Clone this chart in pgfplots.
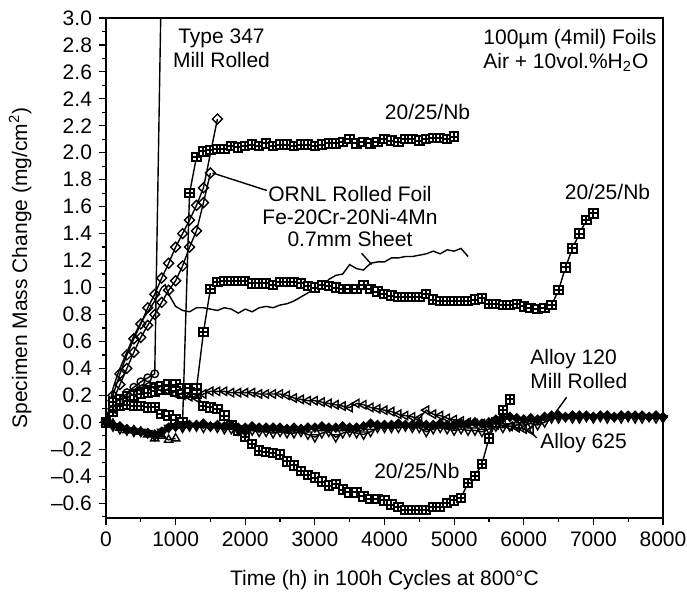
\documentclass[border=0pt]{standalone}
\usepackage{fontspec}
\setmainfont{Liberation Sans}
\usepackage{pgfplots}
\pgfplotsset{compat=1.18}

% square with a cross inside, as in the original marks
\pgfdeclareplotmark{gridsq}{%
  \pgfpathrectangle{\pgfpoint{-\pgfplotmarksize}{-\pgfplotmarksize}}{\pgfpoint{2\pgfplotmarksize}{2\pgfplotmarksize}}%
  \pgfusepathqfillstroke
  \pgfpathmoveto{\pgfpoint{-\pgfplotmarksize}{0pt}}%
  \pgfpathlineto{\pgfpoint{\pgfplotmarksize}{0pt}}%
  \pgfpathmoveto{\pgfpoint{0pt}{-\pgfplotmarksize}}%
  \pgfpathlineto{\pgfpoint{0pt}{\pgfplotmarksize}}%
  \pgfusepathqstroke}

\newcommand{\lbl}{\fontsize{10.5}{12}\selectfont}

\begin{document}
\begin{tikzpicture}
\useasboundingbox (-53pt,-37pt) rectangle (290.5pt,259pt);
\begin{axis}[
  at={(0,0)}, anchor=south west,
  scale only axis,
  width=278.5pt, height=250pt,
  xmin=0, xmax=8000,
  ymin=-0.71, ymax=3.0,
  axis line style={line width=0.75pt},
  tick align=outside,
  xtick pos=left, ytick pos=left,
  major tick length=3.5pt, minor tick length=1.8pt,
  every tick/.style={black, line width=0.6pt},
  xtick={0,1000,2000,3000,4000,5000,6000,7000,8000},
  xticklabels={0,1000,2000,3000,4000,5000,6000,7000,8000},
  minor xtick={500,1500,2500,3500,4500,5500,6500,7500},
  ytick={-0.6,-0.4,-0.2,0,0.2,0.4,0.6,0.8,1.0,1.2,1.4,1.6,1.8,2.0,2.2,2.4,2.6,2.8,3.0},
  yticklabels={--0.6,--0.4,--0.2,0.0,0.2,0.4,0.6,0.8,1.0,1.2,1.4,1.6,1.8,2.0,2.2,2.4,2.6,2.8,3.0},
  minor ytick={-0.7,-0.5,-0.3,-0.1,0.1,0.3,0.5,0.7,0.9,1.1,1.3,1.5,1.7,1.9,2.1,2.3,2.5,2.7,2.9},
  tick label style={font=\lbl},
  xlabel={Time (h) in 100h Cycles at 800°C},
  ylabel={Specimen Mass Change (mg/cm\textsuperscript{2})},
  label style={font=\lbl},
  xlabel style={at={(axis description cs:0.5,-0.124)}, anchor=center},
  ylabel style={at={(axis description cs:-0.154,0.5)}, anchor=center},
  every axis plot/.append style={black, line width=0.7pt},
  mark options={solid, line width=0.7pt, fill=white},
]

% Type 347 mill rolled
\addplot[mark=o, mark size=1.9pt] coordinates {
  (0,0) (100,0.10) (200,0.17) (300,0.22) (400,0.26) (500,0.30) (600,0.33) (700,0.36) (800,3.44)
};

% ORNL rolled foil, two specimens
\addplot[mark=square, mark size=1.75pt, mark options={solid, rotate=45}] coordinates {
  (0,0) (100,0.20) (200,0.36) (300,0.50) (400,0.62) (500,0.73) (600,0.85) (700,0.95)
  (800,1.07) (900,1.18) (1000,1.30) (1100,1.40) (1200,1.50) (1300,1.61) (1400,1.74) (1600,2.25)
};
\addplot[mark=square, mark size=1.75pt, mark options={solid, rotate=45}] coordinates {
  (0,0) (100,0.16) (200,0.28) (300,0.40) (400,0.52) (500,0.63) (600,0.72) (700,0.80)
  (800,0.89) (900,0.98) (1000,1.05) (1100,1.16) (1200,1.30) (1300,1.42) (1400,1.63) (1500,1.85)
};

% 0.7mm sheet
\addplot[no marks] coordinates {
  (0,0) (50,0.12) (100,0.25) (150,0.33) (200,0.40) (300,0.52) (400,0.64) (500,0.74)
  (600,0.82) (700,0.90) (800,1.00) (850,1.02) (900,0.95) (1000,0.86) (1100,0.83) (1200,0.82)
  (1300,0.85) (1400,0.85) (1500,0.84) (1600,0.83) (1700,0.85) (1800,0.84) (1900,0.81) (2000,0.84)
  (2100,0.82) (2200,0.85) (2300,0.86) (2400,0.85) (2500,0.87) (2600,0.88) (2700,0.90) (2800,0.93)
  (2900,0.96) (3000,0.99) (3100,1.00) (3200,1.06) (3300,1.09) (3400,1.10) (3500,1.17) (3600,1.14)
  (3700,1.13) (3800,1.18) (3900,1.19) (4000,1.19) (4100,1.22) (4200,1.22) (4300,1.23) (4400,1.23)
  (4500,1.24) (4600,1.25) (4700,1.27) (4800,1.25) (4900,1.28) (5000,1.27) (5100,1.29) (5200,1.23)
};

% 20/25/Nb upper
\addplot[mark=gridsq, mark size=2.1pt, mark options={solid, fill=white, line width=1pt}] coordinates {
  (0,0) (100,0.08) (200,0.12) (300,0.13) (400,0.12) (500,0.12) (600,0.11) (700,0.11)
  (800,0.06) (900,0.05) (1000,0.02) (1100,0.00) (1200,1.70) (1300,1.97) (1400,2.01) (1500,2.02)
  (1600,2.03) (1700,2.03) (1800,2.05) (1900,2.04) (2000,2.05) (2100,2.06) (2200,2.05) (2300,2.07)
  (2400,2.05) (2500,2.06) (2600,2.06) (2700,2.05) (2800,2.06) (2900,2.06) (3000,2.05) (3100,2.06)
  (3200,2.07) (3300,2.07) (3400,2.08) (3500,2.10) (3600,2.07) (3700,2.08) (3800,2.07) (3900,2.08)
  (4000,2.10) (4100,2.09) (4200,2.08) (4300,2.10) (4400,2.10) (4500,2.09) (4600,2.10) (4700,2.11)
  (4800,2.11) (4900,2.10) (5000,2.12)
};

% 20/25/Nb middle
\addplot[mark=gridsq, mark size=2.1pt, mark options={solid, fill=white, line width=1pt}] coordinates {
  (0,0) (100,0.12) (200,0.16) (300,0.19) (400,0.21) (500,0.22) (600,0.24) (700,0.26)
  (800,0.27) (900,0.28) (1000,0.28) (1100,0.25) (1200,0.25) (1300,0.25) (1400,0.67) (1500,0.99)
  (1600,1.04) (1700,1.05) (1800,1.05) (1900,1.05) (2000,1.05) (2100,1.03) (2200,1.03) (2300,1.03)
  (2400,1.02) (2500,1.04) (2600,1.04) (2700,1.04) (2800,1.03) (2900,1.01) (3000,1.00) (3100,1.02)
  (3200,1.01) (3300,1.00) (3400,0.99) (3500,0.99) (3600,0.99) (3700,1.02) (3800,0.99) (3900,0.97)
  (4000,0.95) (4100,0.94) (4200,0.93) (4300,0.93) (4400,0.93) (4500,0.93) (4600,0.95) (4700,0.91)
  (4800,0.90) (4900,0.90) (5000,0.90) (5100,0.90) (5200,0.90) (5300,0.91) (5400,0.92) (5500,0.88)
  (5600,0.88) (5700,0.87) (5800,0.87) (5900,0.88) (6000,0.86) (6100,0.85) (6200,0.84) (6300,0.85)
  (6400,0.87) (6500,0.98) (6600,1.15) (6700,1.29) (6800,1.40) (6900,1.50) (7000,1.55)
};

% 20/25/Nb lower
\addplot[mark=gridsq, mark size=2.1pt, mark options={solid, fill=white, line width=1pt}] coordinates {
  (0,0) (100,0.15) (200,0.17) (300,0.19) (400,0.20) (500,0.21) (600,0.22) (700,0.23)
  (800,0.24) (900,0.24) (1000,0.23) (1100,0.21) (1200,0.22) (1300,0.21) (1400,0.12) (1500,0.11)
  (1600,0.10) (1700,0.05) (1800,-0.02) (1900,-0.06) (2000,-0.11) (2100,-0.16) (2200,-0.21) (2300,-0.22)
  (2400,-0.23) (2500,-0.24) (2600,-0.29) (2700,-0.32) (2800,-0.36) (2900,-0.39) (3000,-0.41) (3100,-0.44)
  (3200,-0.47) (3300,-0.46) (3400,-0.50) (3500,-0.52) (3600,-0.52) (3700,-0.55) (3800,-0.57) (3900,-0.57)
  (4000,-0.58) (4100,-0.61) (4200,-0.63) (4300,-0.65) (4400,-0.65) (4500,-0.65) (4600,-0.65) (4700,-0.63)
  (4800,-0.63) (4900,-0.60) (5000,-0.58) (5100,-0.56) (5200,-0.45) (5300,-0.40) (5400,-0.31) (5500,-0.12)
  (5600,0.00) (5700,0.09) (5800,0.17)
};

% Alloy 625
\addplot[mark=triangle, mark size=2.4pt, mark options={solid, rotate=90}] coordinates {
  (0,0) (100,0.10) (200,0.15) (300,0.19) (400,0.22) (500,0.25) (600,0.27) (700,0.27)
  (800,0.25) (900,0.23) (1000,0.21) (1100,0.20) (1200,0.19) (1300,0.18) (1400,0.21) (1500,0.23)
  (1600,0.23) (1700,0.23) (1800,0.22) (1900,0.22) (2000,0.22) (2100,0.22) (2200,0.21) (2300,0.21)
  (2400,0.21) (2500,0.21) (2600,0.20) (2700,0.18) (2800,0.17) (2900,0.16) (3000,0.16) (3100,0.15)
  (3200,0.14) (3300,0.13) (3400,0.12) (3500,0.11) (3600,0.14) (3700,0.13) (3800,0.11) (3900,0.10)
  (4000,0.09) (4100,0.08) (4200,0.06) (4300,0.05) (4400,0.04) (4500,0.03) (4600,0.09) (4700,0.06)
  (4800,0.05) (4900,0.03) (5000,0.02) (5100,0.01) (5200,0.00) (5300,-0.01) (5400,-0.01) (5500,-0.02)
  (5600,-0.02) (5700,-0.01) (5800,-0.03) (5900,-0.04) (6000,-0.05) (6100,-0.06)
};

% short early series, open triangles
\addplot[mark=triangle, mark size=2.4pt] coordinates {
  (0,0) (100,-0.01) (200,-0.04) (300,-0.06) (400,-0.06) (500,-0.07) (600,-0.09) (700,-0.12)
  (800,-0.10) (900,-0.13) (1000,-0.12)
};

% Alloy 120 mill rolled, filled diamonds
\addplot[mark=square*, mark size=1.55pt, mark options={solid, rotate=45, fill=black}] coordinates {
  (0,0) (100,-0.02) (200,-0.03) (300,-0.05) (400,-0.06) (500,-0.07) (600,-0.08) (700,-0.09)
  (800,-0.07) (900,-0.04) (1000,-0.03) (1100,-0.03) (1200,-0.02) (1300,-0.02) (1400,-0.01) (1500,-0.03)
  (1600,-0.02) (1700,-0.03) (1800,-0.02) (1900,-0.04) (2000,-0.04) (2100,-0.03) (2200,-0.04) (2300,-0.04)
  (2400,-0.04) (2500,-0.04) (2600,-0.05) (2700,-0.04) (2800,-0.05) (2900,-0.04) (3000,-0.04) (3100,-0.03)
  (3200,-0.04) (3300,-0.04) (3400,-0.03) (3500,-0.04) (3600,-0.04) (3700,-0.03) (3800,-0.01) (3900,-0.02)
  (4000,-0.02) (4100,-0.02) (4200,-0.01) (4300,-0.02) (4400,-0.02) (4500,-0.01) (4600,-0.02) (4700,-0.02)
  (4800,-0.01) (4900,-0.02) (5000,-0.02) (5100,-0.01) (5200,-0.01) (5300,0.00) (5400,-0.01) (5500,0.00)
  (5600,0.02) (5700,0.03) (5800,0.04) (5900,0.03) (6000,0.02) (6100,0.03) (6200,0.02) (6300,0.04)
  (6400,0.05) (6500,0.05) (6600,0.04) (6700,0.05) (6800,0.05) (6900,0.05) (7000,0.04) (7100,0.05)
  (7200,0.05) (7300,0.04) (7400,0.05) (7500,0.05) (7600,0.05) (7700,0.05) (7800,0.04) (7900,0.05) (8000,0.04)
};

% open inverted triangles
\addplot[mark=triangle, mark size=2.4pt, mark options={solid, rotate=180}] coordinates {
  (0,0) (100,-0.03) (200,-0.05) (300,-0.06) (400,-0.07) (500,-0.07) (600,-0.08) (700,-0.10)
  (800,-0.07) (900,-0.04) (1000,-0.03) (1100,-0.04) (1200,-0.03) (1300,-0.03) (1400,-0.04) (1500,-0.03)
  (1600,-0.04) (1700,-0.05) (1800,-0.05) (1900,-0.06) (2000,-0.07) (2100,-0.06) (2200,-0.07) (2300,-0.07)
  (2400,-0.08) (2500,-0.07) (2600,-0.08) (2700,-0.08) (2800,-0.07) (2900,-0.09) (3000,-0.11) (3100,-0.08)
  (3200,-0.07) (3300,-0.11) (3400,-0.08) (3500,-0.07) (3600,-0.08) (3700,-0.09) (3800,-0.07) (3900,-0.04)
  (4000,-0.04) (4100,-0.04) (4200,-0.04) (4300,-0.03) (4400,-0.04) (4500,-0.04) (4600,-0.07) (4700,-0.05)
  (4800,-0.04) (4900,-0.05) (5000,-0.06) (5100,-0.05) (5200,-0.06) (5300,-0.06) (5400,-0.07) (5500,-0.05)
  (5600,-0.03) (5700,-0.04) (5800,-0.03) (5900,-0.02) (6000,-0.02) (6100,-0.01) (6200,-0.02) (6300,0.00)
  (6400,0.03) (6500,0.03) (6600,0.04) (6700,0.03) (6800,0.03) (6900,0.04) (7000,0.03) (7100,0.04)
  (7200,0.03) (7300,0.04) (7400,0.03) (7500,0.04) (7600,0.03) (7700,0.03) (7800,0.04) (7900,0.03) (8000,0.03)
};

% leaders
\draw[line width=0.7pt] (axis cs:1530,1.85) -- (axis cs:2310,1.72);
\draw[line width=0.7pt] (axis cs:3672,1.254) -- (axis cs:3815,1.17);
\draw[line width=0.7pt] (axis cs:6616,0.186) -- (axis cs:6425,0.05);
\draw[line width=0.7pt] (axis cs:6186,-0.116) -- (axis cs:6080,-0.061);

% annotations
\node[font=\lbl, align=center, inner sep=0pt] at (axis cs:1659,2.775) {Type 347\\Mill Rolled};
\node[font=\lbl, align=left, anchor=west, inner sep=0pt] at (axis cs:5415,2.76) {100µm (4mil) Foils\\Air + 10vol.\%H\textsubscript{2}O};
\node[font=\lbl, inner sep=0pt] at (axis cs:4618,2.30) {20/25/Nb};
\node[font=\lbl, inner sep=0pt] at (axis cs:7203,1.707) {20/25/Nb};
\node[font=\lbl, inner sep=0pt] at (axis cs:4466,-0.363) {20/25/Nb};
\node[font=\fontsize{10.5}{11.3}\selectfont, align=center, inner sep=0pt] at (axis cs:3504,1.525) {ORNL Rolled Foil\\Fe-20Cr-20Ni-4Mn\\0.7mm Sheet};
\node[font=\lbl, align=left, anchor=west, inner sep=0pt] at (axis cs:6090,0.394) {Alloy 120\\Mill Rolled};
\node[font=\lbl, anchor=west, inner sep=0pt] at (axis cs:6233,-0.155) {Alloy 625};
\end{axis}
\end{tikzpicture}
\end{document}
